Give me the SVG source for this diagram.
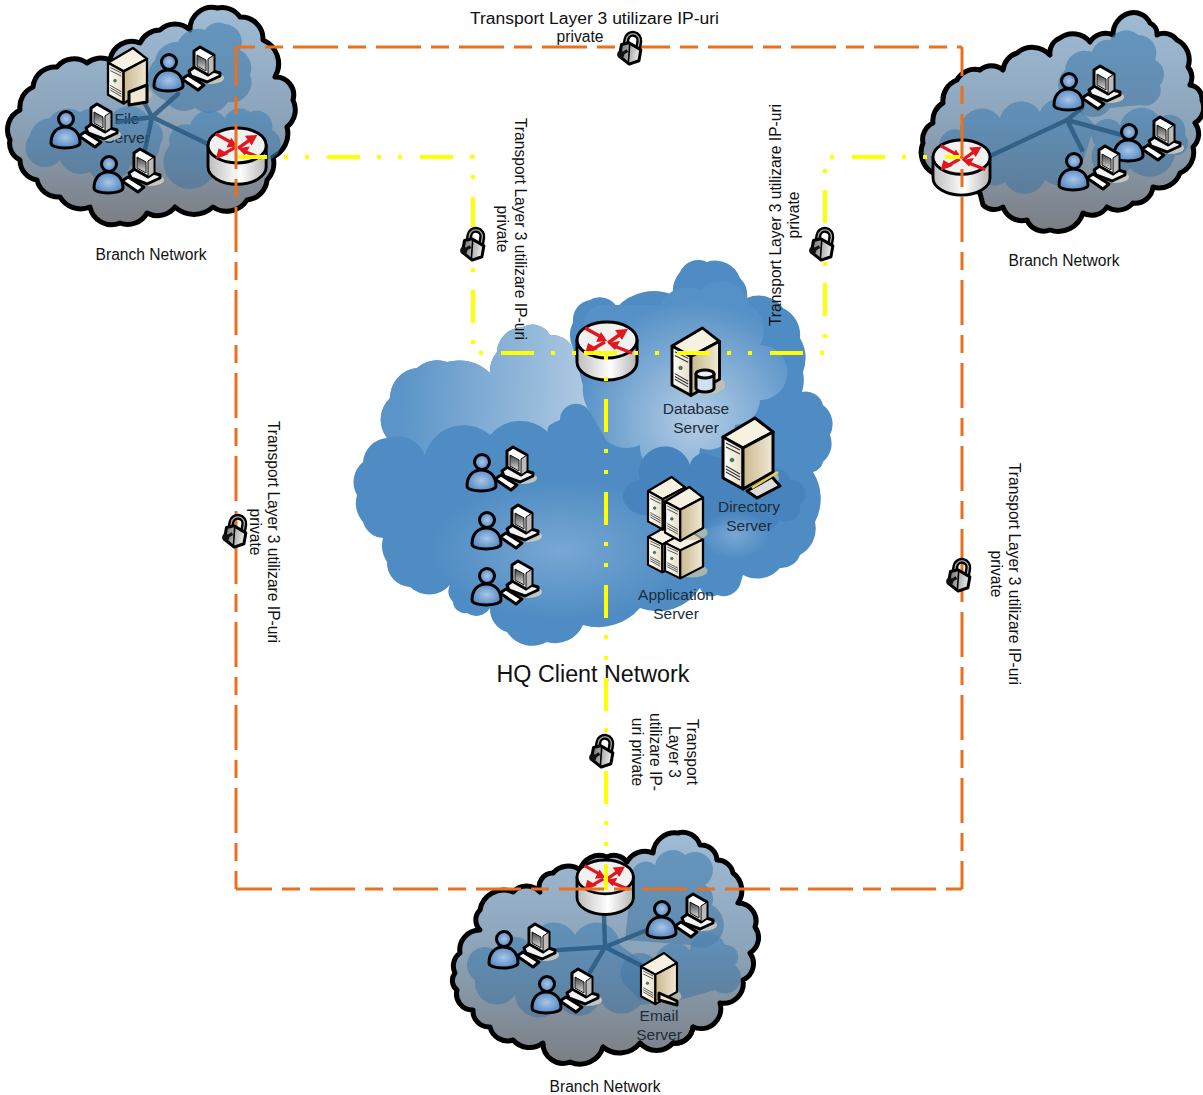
<svg xmlns="http://www.w3.org/2000/svg" width="1203" height="1095" viewBox="0 0 1203 1095">
<style>
text{font-family:"Liberation Sans",Arial,sans-serif;font-size:15.6px;fill:#111;text-anchor:middle}
.hq{fill:#1c2c3c;font-size:15.5px}
.o{fill:none;stroke:#e8701f;stroke-width:3;stroke-dasharray:45 10 18 10}
.y{fill:none;stroke:#ffff00;stroke-width:4;stroke-dasharray:33 17 4 17 4 18}
.k{stroke:#000;stroke-width:3;stroke-linejoin:round}
.s{fill:none;stroke:#2a5a82;stroke-width:4.5;stroke-linecap:round;opacity:.85}
.b{fill:url(#branch);stroke:#000;stroke-width:5;stroke-linejoin:round}
.ol{fill:none;stroke:#000;stroke-width:5;stroke-linecap:round}
.ib{fill:url(#inner)}
</style>
<defs>
<linearGradient id="branch" x1="0" y1="0" x2="0" y2="1"><stop offset="0" stop-color="#9fbcd5"/><stop offset=".5" stop-color="#8ca4ba"/><stop offset="1" stop-color="#7b7e83"/></linearGradient>
<linearGradient id="inner" x1="0" y1="0" x2="0" y2="1"><stop offset="0" stop-color="#4c86b6" stop-opacity=".7"/><stop offset="1" stop-color="#3a6f9c" stop-opacity=".5"/></linearGradient>
<linearGradient id="hqtl" gradientUnits="userSpaceOnUse" x1="400" y1="400" x2="590" y2="410"><stop offset="0" stop-color="#5a94c8"/><stop offset="1" stop-color="#b0cae3"/></linearGradient>
<radialGradient id="hql" gradientUnits="userSpaceOnUse" cx="695" cy="420" r="120"><stop offset="0" stop-color="#b5cde5"/><stop offset=".6" stop-color="#7ba9d3"/><stop offset="1" stop-color="#5590c6"/></radialGradient>
<radialGradient id="hqm" cx=".5" cy=".5" r=".5"><stop offset="0" stop-color="#86b0d8" stop-opacity=".75"/><stop offset="1" stop-color="#86b0d8" stop-opacity="0"/></radialGradient>
<linearGradient id="rb" x1="0" y1="0" x2="1" y2="0"><stop offset="0" stop-color="#bdbdbd"/><stop offset=".55" stop-color="#fff"/><stop offset="1" stop-color="#b5b5b5"/></linearGradient>
<radialGradient id="ub" cx=".5" cy=".5" r=".6"><stop offset="0" stop-color="#a9c6e8"/><stop offset="1" stop-color="#4a80bd"/></radialGradient>
<linearGradient id="sf" x1="0" y1="0" x2="1" y2="0"><stop offset="0" stop-color="#fff"/><stop offset="1" stop-color="#e6dcc0"/></linearGradient>
<linearGradient id="ss" x1="0" y1="0" x2="1" y2="0"><stop offset="0" stop-color="#cbb88e"/><stop offset="1" stop-color="#f0e9d6"/></linearGradient>
<linearGradient id="scr" x1="0" y1="0" x2="0" y2="1"><stop offset="0" stop-color="#444"/><stop offset="1" stop-color="#ddd"/></linearGradient>
<linearGradient id="lk" x1="0" y1="0" x2="1" y2="0"><stop offset="0" stop-color="#777"/><stop offset="1" stop-color="#eee"/></linearGradient>
<g id="userpc">
<ellipse cx="58" cy="30" rx="14" ry="6" fill="#d6d4c6" opacity=".8"/>
<path class="k" d="M30 31 L36 27 L52 37 L46 42 Z" fill="#fff"/>
<path class="k" d="M37 23 L44 18 L68 25 L68 28 L55 34 L39 28 Z" fill="#f2f2f2"/>
<path class="k" d="M42 3 L48 -1 L62 7 L62 23 L56 27 L42 19 Z" fill="#fff"/>
<path d="M56 11 L62 7 L62 23 L56 27 Z" fill="#bbb" stroke="#000"/>
<path d="M45 7 L54 12 L54 23 L45 18 Z" fill="url(#scr)" stroke="#111"/>
<path class="k" d="M2 38 C2 28 8 22 16 22 C25 22 31 28 31 38 C31 41 24 43 16 43 C8 43 2 41 2 38 Z" fill="url(#ub)"/>
<circle class="k" cx="17" cy="14" r="7.500" fill="url(#ub)"/>
</g>
<g id="server">
<ellipse cx="36" cy="60" rx="20" ry="10" fill="#cfc6a8" opacity=".7"/>
<path class="k" d="M32 0 L50 14 L20 30 L0 19 Z" fill="#f6f1e1"/>
<path class="k" d="M0 19 L20 30 L20 71 L0 60 Z" fill="url(#sf)"/>
<path class="k" d="M20 30 L50 14 L50 54 L20 71 Z" fill="url(#ss)"/>
<path d="M3 25 L17 32 M3 29 L17 36 M3 48 L17 56 M3 51 L17 59 M3 54 L17 62" stroke="#333" stroke-width="1.1" fill="none"/>
<circle cx="9" cy="42" r="1.8" fill="#3f8a6a" stroke="#222" stroke-width=".6"/>
</g>
<g id="router">
<path class="k" d="M0 18 V40 A30 18 0 0 0 60 40 V18 Z" fill="url(#rb)"/>
<ellipse class="k" cx="30" cy="18" rx="30" ry="18" fill="#f1f1f1"/>
<path d="M8 6 L26 16 M31 21 L45 11 M28 20 L14 28 M55 31 L37 24" stroke="#e2161c" stroke-width="3.4" fill="none"/>
<path d="M30 19 L19 20 L24 10 Z M51 7 L38 8 L45 18 Z M8 32 L11 21 L21 27 Z M31 21 L43 19 L38 28 Z" fill="#e2161c"/>
</g>
<g id="lock">
<path d="M-5 -3 V-8 A6.500 6.500 0 0 1 8 -8 V-1" fill="none" stroke="#000" stroke-width="6"/>
<path d="M-5 -3 V-8 A6.500 6.500 0 0 1 8 -8 V-1" fill="none" stroke="#aaa" stroke-width="1.3"/>
<path class="k" d="M-9 -2 L-2 -5 L11 0 L11 11 L2 16 L-9 10 Z" fill="url(#lk)"/>
<path d="M-1 -4 L1 15" stroke="#000" stroke-width="1.6"/>
<circle cx="-8" cy="8" r="3.600" fill="#111"/>
<path d="M-8 8 L-2 3" stroke="#111" stroke-width="3"/>
</g>
<path id="c1" d="M10 140 A22 22 0 0 1 20 110 A22 22 0 0 1 33 87 A22 22 0 0 1 57 67 A22 22 0 0 1 87 63 A22 22 0 0 1 110 60 A22 22 0 0 1 140 43 A22 22 0 0 1 160 30 A22 22 0 0 1 190 30 A22 22 0 0 1 217 8 A22 22 0 0 1 240 17 A22 22 0 0 1 263 40 A26 26 0 0 1 275 77 A18 18 0 0 1 293 100 A22 22 0 0 1 287 127 A26 26 0 0 1 273 157 A24 24 0 0 1 267 180 A22 22 0 0 1 247 200 A24 24 0 0 1 213 207 A28 28 0 0 1 175 207 A22 22 0 0 1 147 213 A22 22 0 0 1 120 223 A22 22 0 0 1 90 207 A24 24 0 0 1 60 197 A22 22 0 0 1 37 180 A20 20 0 0 1 20 160 A18 18 0 0 1 10 140 Z"/>
<path id="c2" d="M923 143 A18 18 0 0 1 933 123 A20 20 0 0 1 943 103 A22 22 0 0 1 957 80 A20 20 0 0 1 980 70 A18 18 0 0 1 1003 70 A20 20 0 0 1 1017 53 A24 24 0 0 1 1050 55 A16 16 0 0 1 1060 38 A22 22 0 0 1 1090 42 A18 18 0 0 1 1113 35 A22 22 0 0 1 1130 13 A18 18 0 0 1 1150 23 A12 12 0 0 1 1157 35 A16 16 0 0 1 1177 40 A22 22 0 0 1 1188 67 A16 16 0 0 1 1190 85 A14 14 0 0 1 1202 100 A18 18 0 0 1 1195 123 A18 18 0 0 1 1193 147 A22 22 0 0 1 1180 173 A22 22 0 0 1 1153 187 A18 18 0 0 1 1133 203 A20 20 0 0 1 1107 207 A18 18 0 0 1 1083 213 A26 26 0 0 1 1050 230 A18 18 0 0 1 1027 220 A20 20 0 0 1 1003 207 A16 16 0 0 1 983 205 L980 193 L933 173 A24 24 0 0 1 923 143 Z"/>
<path id="c3" d="M455 973 A16 16 0 0 1 460 953 A20 20 0 0 1 480 930 A14 14 0 0 1 480 910 A24 24 0 0 1 513 892 A18 18 0 0 1 540 892 A14 14 0 0 1 553 873 A20 20 0 0 1 580 870 A20 20 0 0 1 607 857 A16 16 0 0 1 627 862 A20 20 0 0 1 653 853 A22 22 0 0 1 678 833 A18 18 0 0 1 700 845 A16 16 0 0 1 717 860 A16 16 0 0 1 733 873 A22 22 0 0 1 738 903 A18 18 0 0 1 755 927 A18 18 0 0 1 750 953 A18 18 0 0 1 743 980 A20 20 0 0 1 720 1003 A20 20 0 0 1 693 1027 A18 18 0 0 1 673 1043 A22 22 0 0 1 640 1043 A26 26 0 0 1 603 1047 A24 24 0 0 1 570 1062 A20 20 0 0 1 543 1043 A22 22 0 0 1 513 1040 A18 18 0 0 1 490 1027 A16 16 0 0 1 473 1010 A16 16 0 0 1 457 990 A12 12 0 0 1 455 973 Z"/>
</defs>
<rect width="1203" height="1095" fill="#fff"/>

<g id="hq-network">
<path fill="#4f8cc3" d="M357 495 A26 26 0 0 1 363 462 A26 26 0 0 1 387 438 A30 30 0 0 1 390 398 A30 30 0 0 1 417 368 A30 30 0 0 1 447 362 A45 45 0 0 1 490 373 A30 30 0 0 1 497 352 A26 26 0 0 1 523 327 A20 20 0 0 1 550 335 A24 24 0 0 1 573 348 A30 30 0 0 1 573 322 A20 20 0 0 1 590 300 A20 20 0 0 1 617 307 A50 50 0 0 1 673 295 A30 30 0 0 1 680 272 A20 20 0 0 1 707 262 A26 26 0 0 1 740 278 A24 24 0 0 1 747 298 A30 30 0 0 1 783 308 A30 30 0 0 1 800 338 A40 40 0 0 1 803 372 A40 40 0 0 1 802 392 A18 18 0 0 1 823 405 A24 24 0 0 1 830 435 A24 24 0 0 1 823 462 A14 14 0 0 1 813 472 A50 50 0 0 1 815 522 A30 30 0 0 1 800 555 A20 20 0 0 1 780 568 A30 30 0 0 1 743 575 L740 585 A18 18 0 0 1 717 595 A12 12 0 0 1 700 588 A50 50 0 0 1 640 608 A55 55 0 0 1 583 625 A30 30 0 0 1 547 642 A30 30 0 0 1 507 632 A24 24 0 0 1 490 608 A16 16 0 0 1 467 613 A12 12 0 0 1 453 602 A14 14 0 0 1 450 585 A28 28 0 0 1 410 587 A24 24 0 0 1 387 562 A30 30 0 0 1 383 538 A22 22 0 0 1 363 522 A30 30 0 0 1 357 495 Z"/>
<path fill="url(#hqtl)" d="M387 438 A30 30 0 0 1 390 398 A30 30 0 0 1 417 368 A30 30 0 0 1 447 362 A45 45 0 0 1 490 373 A30 30 0 0 1 497 352 A26 26 0 0 1 523 327 A20 20 0 0 1 550 335 A24 24 0 0 1 573 348 L590 412 A16 16 0 0 0 560 420 Q545 425 548 432 A40 40 0 0 0 490 435 A40 40 0 0 0 425 455 A30 30 0 0 0 387 438 Z"/>
<ellipse cx="560" cy="550" rx="130" ry="70" fill="url(#hqm)"/>
<path fill="url(#hql)" d="M590 412 A40 40 0 0 1 583 385 L585 330 A20 20 0 0 1 600 305 L660 305 A30 30 0 0 1 700 290 A30 30 0 0 1 750 305 A30 30 0 0 1 760 345 A20 20 0 0 1 760 400 A26 26 0 0 1 735 425 A26 26 0 0 1 700 448 A30 30 0 0 1 640 445 A30 30 0 0 1 606 440 Z"/>
<path fill="#4784bd" d="M623 500 A18 18 0 0 1 640 480 A22 22 0 0 1 690 465 A14 14 0 0 1 712 456 L770 470 A14 14 0 0 1 790 480 A14 14 0 0 1 800 505 A14 14 0 0 1 780 520 A20 20 0 0 1 745 520 L700 530 L660 510 A24 24 0 0 1 623 500 Z"/>
<ellipse cx="735" cy="535" rx="34" ry="24" fill="url(#hqm)"/>
<text class="hq" x="696" y="414">Database</text><text class="hq" x="696" y="433">Server</text>
<text class="hq" x="749" y="512">Directory</text><text class="hq" x="749" y="531">Server</text>
<text class="hq" x="676" y="600">Application</text><text class="hq" x="676" y="619">Server</text>
<text x="593" y="682" style="font-size:23.300px">HQ Client Network</text>
<use href="#userpc" x="465" y="448"/><use href="#userpc" x="470" y="506"/><use href="#userpc" x="470" y="562"/>
<g id="db-server"><use href="#server" transform="translate(672 328) scale(.95)"/><path class="k" d="M696 374 V388 A9 4 0 0 0 714 388 V374 Z" fill="#cfe0f0"/><ellipse class="k" cx="705" cy="374" rx="9" ry="4" fill="#e8f1f8"/></g>
<g id="directory-server"><use href="#server" transform="translate(723 418)"/><path class="k" d="M747 491 L772 477 L780 486 L757 498 Z" fill="#ddd"/><path d="M752 488 L778 472" stroke="#e8d050" stroke-width="2.500"/></g>
<g id="application-server"><use href="#server" transform="translate(648 524) scale(.72 .68)"/><use href="#server" transform="translate(648 477) scale(.74)"/><use href="#server" transform="translate(665 530) scale(.76 .68)"/><use href="#server" transform="translate(665 487) scale(.76)"/></g>
<use href="#router" x="577" y="322"/>
</g>

<g id="branch-tl">
<use href="#c1" class="b"/>
<path class="ib" d="M30 135 A22 22 0 0 1 50 118 A22 22 0 0 1 80 112 A22 22 0 0 1 110 118 A22 22 0 0 1 150 120 A16 16 0 0 1 160 145 A22 22 0 0 1 130 165 A22 22 0 0 1 90 172 A22 22 0 0 1 60 160 A18 18 0 0 1 30 135 Z"/>
<path class="ib" d="M155 60 A22 22 0 0 1 178 42 A22 22 0 0 1 205 30 A16 16 0 0 1 225 24 A18 18 0 0 1 240 50 A20 20 0 0 1 250 75 A20 20 0 0 1 228 102 A22 22 0 0 1 195 108 A22 22 0 0 1 165 100 A24 24 0 0 1 155 60 Z"/>
<path class="ib" d="M170 145 A16 16 0 0 1 190 125 A20 20 0 0 1 225 118 A16 16 0 0 1 250 112 A16 16 0 0 1 272 130 A16 16 0 0 1 262 160 L210 180 A24 24 0 0 1 170 145 Z"/>
<text class="hq" x="127" y="124">File</text><text class="hq" x="127" y="143">Server</text>
<path class="s" d="M152 117 L143 100 M152 117 L178 94 M152 117 L118 122 M152 117 L145 150 M152 117 L212 146"/>
<use href="#server" transform="translate(108 48) scale(.78)"/><path class="k" d="M129 92 L147 85 V102 L129 105 Z" fill="#f1e9cf"/>
<use href="#userpc" x="49" y="105"/><use href="#userpc" x="92" y="150"/><use href="#userpc" x="152" y="48"/>
<use href="#router" transform="translate(208 128) scale(.97)"/>
<text x="151" y="260">Branch Network</text>
</g>

<g id="branch-tr">
<use href="#c2" class="b"/>
<path class="ib" d="M940 150 A16 16 0 0 1 960 130 A22 22 0 0 1 1000 118 A22 22 0 0 1 1040 112 A22 22 0 0 1 1080 110 L1095 125 L1080 170 A22 22 0 0 1 1045 180 A22 22 0 0 1 1005 182 A16 16 0 0 1 980 175 Z"/>
<path class="ib" d="M1065 70 A20 20 0 0 1 1092 52 A16 16 0 0 1 1110 40 A18 18 0 0 1 1138 35 A18 18 0 0 1 1155 60 A16 16 0 0 1 1160 85 A16 16 0 0 1 1140 105 L1110 108 A20 20 0 0 1 1075 105 A20 20 0 0 1 1065 70 Z"/>
<path class="ib" d="M1095 145 A16 16 0 0 1 1120 125 A22 22 0 0 1 1160 118 A16 16 0 0 1 1185 135 A12 12 0 0 1 1175 155 A26 26 0 0 1 1130 168 A20 20 0 0 1 1095 145 Z"/>
<path class="s" d="M1067 120 L988 157 M1067 120 L1082 108 M1067 120 L1122 135 M1067 120 L1082 150"/>
<use href="#userpc" x="1052" y="67"/><use href="#userpc" x="1112" y="118"/><use href="#userpc" x="1057" y="147"/>
<use href="#router" transform="translate(933 140) scale(.95)"/>
<text x="1064" y="266">Branch Network</text>
</g>

<g id="branch-b">
<use href="#c3" class="b"/>
<path class="ib" d="M475 980 A16 16 0 0 1 495 950 A20 20 0 0 1 530 945 A24 24 0 0 1 575 935 A24 24 0 0 1 620 945 L640 960 L680 1000 L640 1005 A24 24 0 0 1 600 1000 A22 22 0 0 1 560 1005 A24 24 0 0 1 515 995 A22 22 0 0 1 475 980 Z"/>
<path class="ib" d="M632 875 A14 14 0 0 1 655 865 A18 18 0 0 1 685 855 A18 18 0 0 1 705 885 A16 16 0 0 1 712 905 A22 22 0 0 1 690 945 L625 940 Z"/>
<path class="ib" d="M625 985 A16 16 0 0 1 655 960 A20 20 0 0 1 690 950 A18 18 0 0 1 725 945 A12 12 0 0 1 735 965 A16 16 0 0 1 715 990 L680 1000 L640 1000 Z"/>
<text class="hq" x="659" y="1021">Email</text><text class="hq" x="659" y="1040">Server</text>
<path class="ol" d="M693 1027 A18 18 0 0 1 673 1043"/>
<path class="s" d="M605 947 L604 915 M605 947 L558 950 M605 947 L590 972 M605 947 L652 928 M605 947 L640 965"/>
<use href="#server" transform="translate(641 953) scale(.72)"/><path class="k" d="M659 993 L677 1001 V1005 L659 1000 Z" fill="#f1e9cf"/>
<use href="#userpc" x="487" y="925"/><use href="#userpc" x="530" y="970"/><use href="#userpc" x="645" y="895"/>
<use href="#router" transform="translate(577 860) scale(.94)"/>
<text x="605" y="1092">Branch Network</text>
</g>

<g id="connectors">
<path class="o" d="M236 47 H962" stroke-dashoffset="26"/>
<path class="o" d="M962 47 V889" stroke-dashoffset="16"/>
<path class="o" d="M236 889 H962" stroke-dashoffset="9"/>
<path class="o" d="M236 47 V889" stroke-dashoffset="6"/>
<path class="y" d="M238 157 H473 V353" stroke-dashoffset="4"/>
<path class="y" d="M473 353 H584" stroke-dashoffset="65"/>
<path class="y" d="M584 353 H825"/>
<path class="y" d="M825 353 V157 H960" stroke-dashoffset="56"/>
<path class="y" d="M606 353 V890" stroke-dashoffset="47"/>
</g>

<g id="locks">
<use href="#lock" transform="translate(630 48) rotate(10)"/>
<use href="#lock" transform="translate(473 244) rotate(10)"/>
<use href="#lock" transform="translate(822 244) rotate(10)"/>
<use href="#lock" transform="translate(235 531) rotate(10)"/>
<use href="#lock" transform="translate(959 575) rotate(10)"/>
<use href="#lock" transform="translate(602 751) rotate(10)"/>
</g>

<g id="labels">
<text x="594.500" y="24" textLength="249" lengthAdjust="spacingAndGlyphs">Transport Layer 3 utilizare IP-uri</text><text x="580" y="42">private</text>
<g transform="translate(515 229) rotate(90)"><text>Transport Layer 3 utilizare IP-uri</text><text y="18">private</text></g>
<g transform="translate(781 215) rotate(-90)"><text>Transport Layer 3 utilizare IP-uri</text><text y="18">private</text></g>
<g transform="translate(268 532) rotate(90)"><text>Transport Layer 3 utilizare IP-uri</text><text y="18">private</text></g>
<g transform="translate(1009 574) rotate(90)"><text>Transport Layer 3 utilizare IP-uri</text><text y="18">private</text></g>
<g transform="translate(687 752) rotate(90)" style="font-size:16px"><text>Transport</text><text y="18.500">Layer 3</text><text y="37">utilizare IP-</text><text y="55.500">uri private</text></g>
</g>
</svg>
